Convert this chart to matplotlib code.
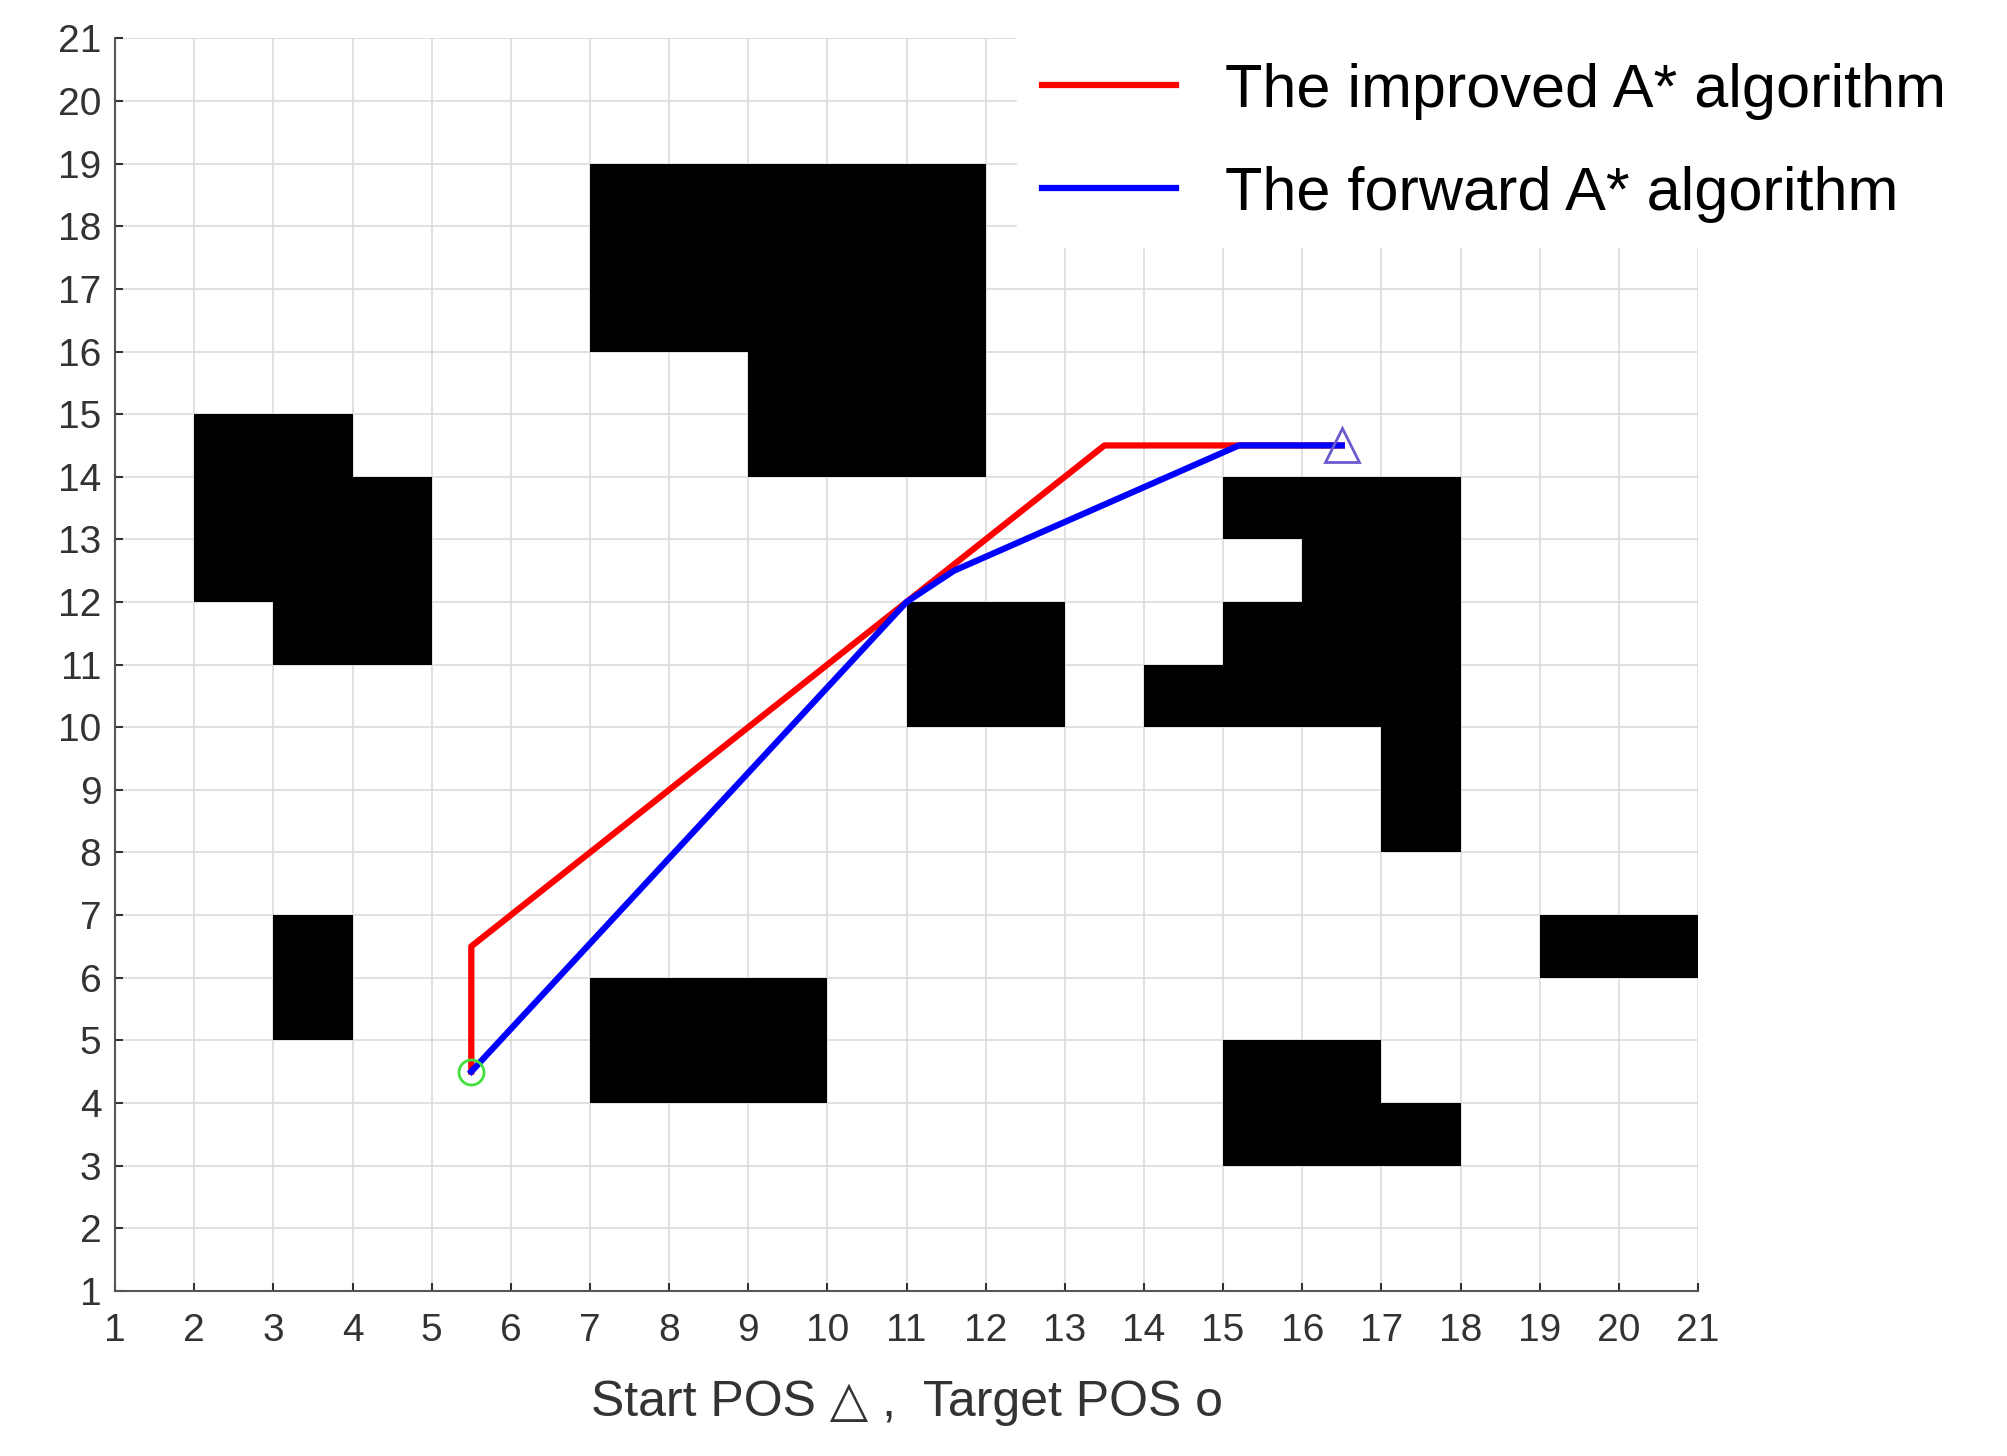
import matplotlib
matplotlib.use("Agg")
import matplotlib.pyplot as plt
from matplotlib.patches import Rectangle

plt.rcParams["font.family"] = ["Liberation Sans", "DejaVu Sans"]

# obstacles as (x, y, width, height) in grid cells
obstacles = [
    (2, 12, 2, 3), (3, 11, 2, 3),
    (7, 16, 5, 3), (9, 14, 3, 2),
    (3, 5, 1, 2), (7, 4, 3, 2), (11, 10, 2, 2),
    (15, 13, 3, 1), (16, 12, 2, 1), (15, 11, 3, 1), (14, 10, 3, 1), (17, 8, 1, 3),
    (19, 6, 2, 1), (15, 3, 2, 2), (17, 3, 1, 1),
]
improved_x = [5.5, 5.5, 11.0, 13.5, 16.5]
improved_y = [4.5, 6.5, 12.0, 14.5, 14.5]
forward_x = [5.5, 11.0, 11.6, 15.2, 16.5]
forward_y = [4.5, 12.0, 12.5, 14.5, 14.5]
start = (16.5, 14.5)
target = (5.5, 4.5)

fig = plt.figure(figsize=(20.07, 14.56), dpi=100)
ax = fig.add_axes([0.0574, 0.1135, 0.7886, 0.8601])
for x, y, w, h in obstacles:
    ax.add_patch(Rectangle((x, y), w, h, facecolor="black", edgecolor="none", zorder=2))
ax.plot(improved_x, improved_y, color="red", lw=4.5, zorder=3, label="The improved A* algorithm")
ax.plot(forward_x, forward_y, color="blue", lw=4.5, zorder=3, label="The forward A* algorithm")
ax.plot(*start, "^", ms=24, mfc="none", mec="#6a5acd", mew=2, zorder=4)
ax.plot(*target, "o", ms=18, mfc="none", mec="#40e040", mew=2, zorder=4)

ax.set_xlim(1, 21)
ax.set_ylim(1, 21)
ax.set_xticks(range(1, 22))
ax.set_yticks(range(1, 22))
ax.grid(True, color="#dcdcdc", lw=1.2, zorder=0)
ax.set_axisbelow(True)
for s in ["top", "right"]:
    ax.spines[s].set_visible(False)
for s in ["left", "bottom"]:
    ax.spines[s].set_color("#555555")
    ax.spines[s].set_linewidth(1.5)
ax.tick_params(labelsize=28, colors="#333333", length=6, width=1.5, direction="in")
ax.tick_params(axis="x", pad=16)
ax.tick_params(axis="y", pad=10)
ax.set_xlabel("Start POS \u25b3 ,  Target POS o", fontsize=36, color="#333333", labelpad=22)

leg = ax.legend(loc="upper left", bbox_to_anchor=(0.57, 1.0), fontsize=44,
                frameon=True, fancybox=False, handlelength=2.2, labelspacing=0.75,
                borderaxespad=0)
leg.get_frame().set_edgecolor("white")
leg.get_frame().set_alpha(1)
fig.savefig("out.png", dpi=100, facecolor="white")
